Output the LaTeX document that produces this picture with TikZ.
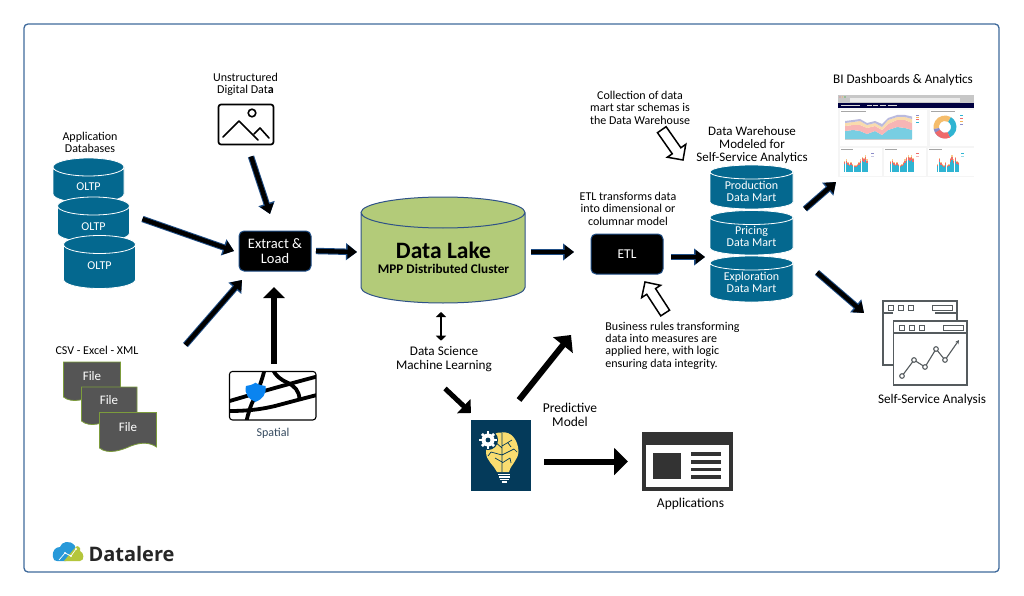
\documentclass[tikz,border=0pt]{standalone}
\usepackage{fontspec}
\setmainfont{Carlito}
\newfontfamily\logofont{Open Sans}
\usetikzlibrary{arrows.meta,calc,shapes.arrows}
\definecolor{frameblue}{HTML}{3F6A9C}
\definecolor{navy}{HTML}{1F4E86}
\definecolor{martblue}{HTML}{04688F}
\definecolor{lakegreen}{HTML}{B3CB79}
\definecolor{lakeline}{HTML}{2F5288}
\definecolor{filegrey}{HTML}{555555}
\definecolor{filegreen}{HTML}{7C9C3C}
\definecolor{modelblue}{HTML}{043A5A}
\definecolor{bulb}{HTML}{FADD70}
\definecolor{appgrey}{HTML}{333333}
\definecolor{iconline}{HTML}{555B5E}
\definecolor{spatialtxt}{HTML}{34495E}
\definecolor{dteal}{HTML}{2FB4D2}
\definecolor{dred}{HTML}{EF6A6A}
\definecolor{dorange}{HTML}{F4B65C}
\definecolor{dpurple}{HTML}{8C8CC8}
\definecolor{logogreen}{HTML}{B4C63C}
\definecolor{shieldblue}{HTML}{0A84F0}
\tikzset{
  x=1pt,y=-1pt,
  ghost/.style={inner sep=0pt,outer sep=0pt,align=center},
  label/.style={ghost,text=black,yshift=-.6pt,font=\fontsize{12}{12.4}\selectfont},
  biglabel/.style={label,font=\fontsize{13.2}{13.4}\selectfont},
  whitetxt/.style={ghost,text=white,font=\fontsize{12}{12}\selectfont},
  procbox/.style={ghost,fill=black,draw=navy,line width=1pt,rounded corners=5pt,text=white},
  flow/.style={
    preaction={draw=navy,line width=6.4pt,-{Triangle[length=11pt,width=16.5pt]}},
    draw=black,line width=4.4pt,-{Triangle[length=9.5pt,width=13.5pt]}},
  solidflow/.style={draw=black,line width=5.6pt,-{Triangle[length=#1,width=1.9*#1]}},
  solidflow/.default=11pt,
  hollow/.style={single arrow,draw=black,fill=white,line width=1.5pt,
    minimum width=21pt,single arrow head extend=6pt,single arrow head indent=0pt,inner xsep=0pt,inner ysep=4.5pt,outer sep=0pt},
  icon/.style={draw=black,line width=1.6pt},
  road/.style={draw=black,line width=3.8pt},
  winline/.style={draw=iconline,line width=1.1pt,fill=white},
}
% cx, ytop-centre, ybottom-centre, rx, ry, fill, stroke, stroke width
\newcommand{\cylshape}[8]{%
  \draw[fill=#6,draw=#7,line width=#8]
    (#1-#4,#2) -- (#1-#4,#3) arc[start angle=180,end angle=360,x radius=#4pt,y radius=#5pt]
    -- (#1+#4,#2) arc[start angle=0,end angle=360,x radius=#4pt,y radius=#5pt];
}
% x0,x1,ytop,ybottom
\newcommand{\docshape}[4]{%
  \draw[fill=filegrey,draw=filegreen,line width=.8pt]
    (#1,#3) -- (#2,#3) -- (#2,#4)
    .. controls ({#2-(#2-#1)*.1},{#4-4}) and ({#2-(#2-#1)*.25},{#4-5.5}) .. ({#2-(#2-#1)*.45},{#4-1})
    .. controls ({#2-(#2-#1)*.6},{#4+3}) and ({#2-(#2-#1)*.85},{#4+8}) .. (#1,{#4+1}) -- cycle;
}
% small stacked bars: x0, base y, list of h
\newcommand{\barchart}[3]{%
  \foreach \i/\h in {#3}{
    \fill[dteal] ({#1+\i*1.6},#2) rectangle ({#1+\i*1.6+1.4},{#2-\h});
    \fill[dred] ({#1+\i*1.6},{#2-\h}) rectangle ({#1+\i*1.6+1.4},{#2-\h-\h*.25});
    \fill[dorange!70] ({#1+\i*1.6},{#2-\h-\h*.25}) rectangle ({#1+\i*1.6+1.4},{#2-\h-\h*.4});
  }
}
\begin{document}
\begin{tikzpicture}
\useasboundingbox (0,0) rectangle (1024,596);
\fill[white] (0,0) rectangle (1024,596);
\draw[frameblue,line width=1.3pt,rounded corners=4pt] (24,24) rectangle (999,572);

% ---------- OLTP
\cylshape{88.5}{167}{194}{35.5}{9}{martblue}{white}{.8pt}
\cylshape{93.5}{206}{233}{36}{9}{martblue}{white}{.8pt}
\cylshape{99.5}{244.5}{279.5}{36}{9}{martblue}{white}{.8pt}
\node[whitetxt,minimum width=70pt,minimum height=20pt] (oltpA) at (88.5,187) {OLTP};
\node[whitetxt,minimum width=70pt,minimum height=20pt] (oltpB) at (93.5,227) {OLTP};
\node[whitetxt,minimum width=70pt,minimum height=20pt] (oltpC) at (99.5,266) {OLTP};
\node[label] (appdb) at (90,142) {Application\\Databases};

% ---------- image icon
\node[label] (unstr) at (245.5,84) {Unstructured\\Digital Dat\textbf{a}};
\node[ghost,draw=black,line width=1.7pt,rounded corners=2.5pt,minimum width=55pt,minimum height=40pt] (img) at (246,124.5) {};
\draw[icon,line cap=round,line join=round] (223,137) -- (239,121) -- (258,140);
\draw[icon,line cap=round,line join=round] (254,134) -- (260,128) -- (269,138);
\draw[icon] (252,113) circle[radius=3.8pt];

% ---------- files
\node[label] (csv) at (97,350) {CSV - Excel - XML};
\docshape{63.5}{120.5}{362}{396}
\docshape{81.5}{137}{387}{420}
\docshape{99.5}{156.5}{412.5}{447}
\node[whitetxt,font=\fontsize{13}{13}\selectfont,minimum width=55pt,minimum height=20pt] (fileA) at (92,376) {File};
\node[whitetxt,font=\fontsize{13}{13}\selectfont,minimum width=55pt,minimum height=20pt] (fileB) at (109,400) {File};
\node[whitetxt,font=\fontsize{13}{13}\selectfont,minimum width=55pt,minimum height=20pt] (fileC) at (128,427) {File};

% ---------- spatial
\node[ghost,minimum width=86.5pt,minimum height=48.5pt] (spatial) at (272.7,395.7) {};
\begin{scope}
  \clip[rounded corners=3pt] (spatial.north west) rectangle (spatial.south east);
  \draw[road] (228,401.5) .. controls (260,392) and (285,385) .. (317,376.5);
  \draw[road] (228,411) .. controls (245,411) and (258,410) .. (275,406) .. controls (290,402) and (305,398) .. (317,395);
  \draw[road] (264.5,370) .. controls (262,380) and (258,392) .. (252,403) .. controls (250,408) and (248,414) .. (246.5,421);
  \draw[road] (273,370) .. controls (276,376) and (280,379) .. (287,382.5) .. controls (295,386) and (299,391) .. (299.5,399);
\end{scope}
\draw[black,line width=1.1pt,rounded corners=3pt] (spatial.north west) rectangle (spatial.south east);
\fill[shieldblue] (246,386) .. controls (249,385.5) and (252,385) .. (255.5,382.7)
  .. controls (259,385) and (262,385.5) .. (265.5,386) .. controls (267,394) and (262,399.5) .. (255.5,402)
  .. controls (249,399.5) and (244,394) .. (246,386) -- cycle;
\node[label,text=spatialtxt,font=\fontsize{12}{12}\selectfont] (spatialtxt) at (273,433) {Spatial};

% ---------- extract & load
\node[procbox,minimum width=72pt,minimum height=40pt,font=\fontsize{14.5}{14.8}\selectfont] (el) at (275,251) {Extract \&\\Load};

% ---------- lake
\cylshape{443}{212.5}{287.5}{82}{15.5}{lakegreen}{lakeline}{1pt}
\node[ghost,minimum width=164pt,minimum height=100pt,text=black] (lake) at (443,252) {};
\node[ghost,font=\bfseries\fontsize{23.5}{25}\selectfont] (laketitle) at (443.5,250) {Data Lake};
\node[ghost,font=\bfseries\fontsize{13.2}{14}\selectfont] (lakesub) at (443.5,269) {MPP Distributed Cluster};

% ---------- data science
\node[biglabel] (ds) at (444,358.5) {Data Science\\Machine Learning};

% ---------- model icon
\node[ghost,fill=modelblue,minimum width=60pt,minimum height=71pt] (model) at (501,455.5) {};
\fill[bulb] (502,432.5) .. controls (511,431) and (518,440) .. (518.5,451)
  .. controls (518.5,460) and (511,464) .. (509,472) -- (497,472)
  .. controls (494,465) and (486,461) .. (486,452) .. controls (486,442) and (493,431) .. (502,432.5) -- cycle;
\draw[modelblue,line width=.7pt] (502,433) -- (502,472) (502,448) -- (494,441) (502,455) -- (491,452)
  (502,462) -- (495,458) (502,446) -- (512,440) (502,455) -- (514,449) (502,463) -- (510,458) (508,443) -- (511,447)
  (495,441) -- (495,436) (491,452) -- (488,456) (514,449) -- (517,452) (510,458) -- (511,463);
\fill[modelblue] (488,440) circle[radius=10pt];
\fill[white] (488,440) circle[radius=6.5pt];
\foreach \a in {0,45,...,315}{\fill[white,rotate around={\a:(488,440)}] (486.6,431.4) rectangle (489.4,435);}
\fill[modelblue] (488,440) circle[radius=2.4pt];
\foreach \yy/\w in {474.5/6,477/5.5,479.5/4.5,482/2.5}{\draw[white,line width=1.4pt] ({504-\w},\yy) -- ({504+\w},\yy);}
\node[label,font=\fontsize{13.5}{14}\selectfont] (pred) at (570,414) {Predictive\\Model};

% ---------- applications
\node[ghost,fill=appgrey,minimum width=91pt,minimum height=59pt] (apps) at (687.5,461.5) {};
\fill[white] (645.5,445) rectangle (729,487);
\fill[appgrey] (653,452.5) rectangle (681,478.5);
\foreach \yy in {454,462,469.5,477}{\fill[appgrey] (691,{\yy-1.7}) rectangle (721,{\yy+1.7});}
\node[label,font=\fontsize{13.5}{14}\selectfont] (appstxt) at (690.5,503) {Applications};

% ---------- ETL
\node[label] (etlnote) at (628,208) {ETL transforms data\\into dimensional or\\columnar model};
\node[procbox,minimum width=72pt,minimum height=40pt,font=\fontsize{13.5}{14}\selectfont] (etl) at (627,254) {ETL};
\node[label,align=left] (bizrules) at (672.5,345) {Business rules transforming\\data into measures are\\applied here, with logic\\ensuring data integrity.};
\node[label] (martnote) at (640,107) {Collection of data\\mart star schemas is\\the Data Warehouse};

% ---------- marts
\node[label,font=\fontsize{13}{13}\selectfont] (dwtitle) at (752,144) {Data Warehouse\\Modeled for\\Self-Service Analytics};
\cylshape{751.5}{172}{202}{41.5}{7}{martblue}{white}{.8pt}
\cylshape{751.5}{217.5}{248}{41.5}{7}{martblue}{white}{.8pt}
\cylshape{751.5}{263}{295}{41.5}{7}{martblue}{white}{.8pt}
\node[whitetxt,minimum width=83pt,minimum height=30pt] (martP) at (751.5,191) {Production\\Data Mart};
\node[whitetxt,minimum width=83pt,minimum height=30pt] (martR) at (751.5,236.5) {Pricing\\Data Mart};
\node[whitetxt,minimum width=83pt,minimum height=30pt] (martE) at (751.5,282.5) {Exploration\\Data Mart};

% ---------- dashboard
\node[biglabel] (bititle) at (903,79.5) {BI Dashboards \& Analytics};
\node[ghost,fill=white,minimum width=136pt,minimum height=82pt] (bi) at (906,136) {};
\fill[black!22] (838,95) rectangle (974,103);
\fill[black!8] (850,98.5) rectangle (960,102);
\fill[dred] (840,97) circle[radius=.7pt];\fill[dorange] (842.5,97) circle[radius=.7pt];\fill[green!60!black] (845,97) circle[radius=.7pt];
\fill[black!75!blue] (838,103) rectangle (974,108.5);
\foreach \xa/\xb in {841/860,867/872,873/878,880/886,888/897}{\draw[white!85!black,line width=.7pt] (\xa,105.7) -- (\xb,105.7);}
\fill[black!4] (838,108.5) rectangle (974,177);
\fill[white] (840,110) rectangle (927,146);
\fill[white] (930,110) rectangle (974,146);
\fill[white] (840,148) rectangle (882,176);
\fill[white] (884,148) rectangle (926,176);
\fill[white] (928,148) rectangle (974,176);
\draw[black!35,line width=.5pt] (841,111.5) -- (866,111.5) (931,111.5) -- (955,111.5) (841,148.8) -- (853,148.8) (885,148.8) -- (897,148.8) (929,148.8) -- (942,148.8);
\fill[dteal!65] (845,139) -- (845,131) -- (853,130) -- (860,131) -- (867,134) -- (875,131) -- (882,135) -- (888,130) -- (897,127) -- (905,128) -- (912,130) -- (912,139) -- cycle;
\fill[dred!50] (845,131) -- (853,130) -- (860,131) -- (867,134) -- (875,131) -- (882,135) -- (888,130) -- (897,127) -- (905,128) -- (912,130) -- (912,123) -- (905,120) -- (897,120) -- (888,124) -- (882,130) -- (875,126) -- (867,128) -- (860,125) -- (853,125) -- (845,126) -- cycle;
\fill[dorange!50] (845,126) -- (853,125) -- (860,125) -- (867,128) -- (875,126) -- (882,130) -- (888,124) -- (897,120) -- (905,120) -- (912,123) -- (912,119) -- (905,117) -- (897,117) -- (888,120) -- (882,127) -- (875,123) -- (867,125) -- (860,121) -- (853,122) -- (845,123) -- cycle;
\fill[dpurple!60] (845,123) -- (853,122) -- (860,121) -- (867,125) -- (875,123) -- (882,127) -- (888,120) -- (897,117) -- (905,117) -- (912,119) -- (912,116.5) -- (905,115) -- (897,115) -- (888,118) -- (882,124) -- (875,121) -- (867,123) -- (860,119) -- (853,120) -- (845,121) -- cycle;
\draw[black!20,line width=.3pt] (845,139) -- (912,139);
\foreach \yy/\c in {115/dpurple,117/dorange,119/dred,122/dteal}{\fill[\c] (916,\yy) rectangle (919,{\yy+1.2});}
\foreach \a/\b/\c in {-65/60/dteal,60/190/dorange!90!white,190/260/dpurple}{
  \fill[\c] (945,127) ++(\a:11.5pt) arc[start angle=\a,end angle=\b,radius=11.5pt] -- ++(\b:-5.5pt) arc[start angle=\b,end angle=\a,radius=6pt] -- cycle;}
\fill[dred] (945,127) ++(260:11.5pt) arc[start angle=260,end angle=295,radius=11.5pt] -- ++(295:-5.5pt) arc[start angle=295,end angle=260,radius=6pt] -- cycle;
\fill[dred] (945,127) ++(-150:11.5pt) arc[start angle=-150,end angle=-65,radius=11.5pt] -- ++(-65:-5.5pt) arc[start angle=-65,end angle=-150,radius=6pt] -- cycle;
\foreach \yy/\c in {115/dteal,118/dred,121/dorange,124/dpurple}{\fill[\c] (960,\yy) rectangle (963,{\yy+1.2});}
\barchart{844}{172}{0/8,1/9,2/7,3/6,4/7,5/6,6/5,7/5,8/6,9/7,10/9,11/11,12/10,13/12,14/9}
\barchart{890}{172}{0/8,1/9,2/7,3/6,4/7,5/6,6/5,7/6,8/7,9/9,10/11,11/12,12/11,13/12,14/10}
\barchart{937}{172}{0/6,1/10,2/7,3/6,4/5,5/7,6/5,7/6,8/10,9/12,10/9,11/11,12/8,13/7}
\foreach \xx/\c in {871/dpurple,916/dred,961/dteal}{\fill[\c] (\xx,153) rectangle ({\xx+3},154.2);\fill[\c!50] (\xx,156) rectangle ({\xx+3},157.2);}

% ---------- self service icon
\node[ghost,minimum width=74pt,minimum height=64pt] (ssa) at (930,353) {};
\draw[winline,fill=none] (893,365) -- (883,365) -- (883,301) -- (957,301) -- (957,321);
\draw[iconline,line width=1.1pt] (883,313) -- (893,313) (957,313) -- (935,313);
\foreach \xx in {888,898,908}{\draw[iconline,line width=1pt] (\xx,305) rectangle ({\xx+5},310);}
\draw[iconline,line width=1pt] (932,305) rectangle (952,310);
\draw[winline] (893.5,321) rectangle (967,385);
\draw[iconline,line width=1.1pt] (893.5,333) -- (967,333);
\foreach \xx in {899,909,919}{\draw[iconline,line width=1pt] (\xx,325) rectangle ({\xx+5},330);}
\draw[iconline,line width=1pt] (943,325) rectangle (963,330);
\draw[iconline,line width=1.1pt,-{Stealth[length=4pt,width=4pt]}] (902,376) -- (914,360) -- (925,367) -- (936,349) -- (945,360) -- (959,340);
\foreach \xx/\yy in {902/376,914/360,925/367,936/349,945/360}{\draw[iconline,line width=1.1pt,fill=white] (\xx,\yy) circle[radius=2.3pt];}
\node[biglabel] (ssatxt) at (932,399.5) {Self-Service Analysis};

% ---------- logo
\node[ghost,minimum width=31pt,minimum height=20pt] (cloud) at (68.5,551) {};
\fill[dteal!85!blue] (53,557) .. controls (52,550) and (56,547) .. (60,547) .. controls (61,542) and (70,539) .. (75,546) -- (76,552) -- (66,561) -- (57,561) .. controls (55,561) and (53,560) .. (53,557) -- cycle;
\fill[logogreen] (64,561) -- (73,550) -- (77,546) .. controls (80,547) and (81,549) .. (80,551) .. controls (84,552) and (85,561) .. (80,561) -- cycle;
\draw[white,line width=.7pt] (59,560) -- (65,553) -- (71,556) -- (76,549);
\foreach \xx/\yy in {65/553,71/556,76/549}{\fill[white] (\xx,\yy) circle[radius=1.2pt];}
\node[ghost,anchor=west,font=\logofont\bfseries\fontsize{20}{22}\selectfont,text=black!85] (logo) at (88.5,553.5) {Datalere};

% ---------- connectors
\draw[flow] ($(oltpB.east)+(14,-8)$) -- ($(el.west)+(-5,0)$);
\draw[flow] ($(img.south)+(5,12)$) -- ($(el.north)+(-5,-17)$);
\draw[flow] ($(fileA.east)+(66,-31)$) -- ($(el.south)+(-33,9)$);
\draw[solidflow] ($(spatial.north)+(1.3,-7.5)$) -- ($(el.south)+(-1,16)$);
\draw[flow] ($(el.east)+(5,0)$) -- ($(lake.west)+(-4,0)$);
\draw[flow] ($(lake.east)+(6,0)$) -- ($(etl.west)+(-17,-2)$);
\draw[flow] ($(etl.east)+(8,3)$) -- ($(martR.west)+(-5,20.5)$);
\draw[flow] ($(martP.east)+(12,18)$) -- ($(bi.west)+(-2,46)$);
\draw[flow] ($(martE.east)+(24,-10)$) -- ($(ssa.west)+(-29,-40)$);
\draw[draw=black,line width=2.4pt,{Triangle[length=5pt,width=10pt]}-{Triangle[length=5pt,width=10pt]}] ($(lake.south)+(-2,10)$) -- ($(ds.north)+(-3,-6)$);
\draw[solidflow=10pt,line width=5pt] ($(ds.south)+(1,17)$) -- ($(model.north)+(-30,-7)$);
\draw[solidflow=13pt,line width=6pt] ($(model.north)+(18,-20)$) -- ($(etl.south)+(-56,61)$);
\draw[solidflow=14pt,line width=6pt] ($(model.east)+(13,6)$) -- ($(apps.west)+(-14,0)$);
\node[hollow,minimum height=37pt,rotate=-55,anchor=tip] (holA) at (683,160) {};
\node[hollow,minimum height=37pt,rotate=123,anchor=tip] (holB) at (645,282) {};
\end{tikzpicture}
\end{document}
